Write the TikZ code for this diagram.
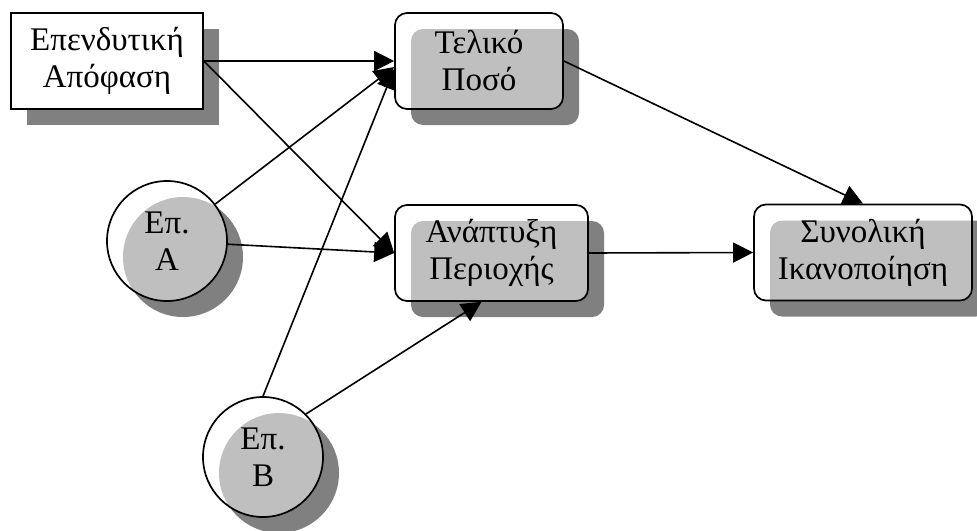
\documentclass[tikz,border=0pt]{standalone}
\usepackage{fontspec}
\setmainfont{Liberation Serif}
\usetikzlibrary{arrows.meta}
\usetikzlibrary{shadows}
\tikzstyle{every node}=[font=\fontsize{16.5}{18.5}\selectfont, align=center, line width=0.85pt]
\tikzset{offshadow/.style={drop shadow={shadow xshift=8pt, shadow yshift=-8pt, fill=black!50, opacity=1}}}
\tikzstyle{plain box}=[draw, rectangle, fill=white, minimum width=96pt, minimum height=48pt, offshadow]
\tikzstyle{shaded}=[draw, fill=white, fill opacity=0.5, text opacity=1, offshadow]
\tikzstyle{round box}=[shaded, rectangle, rounded corners=6pt, minimum height=48pt]
\tikzstyle{agent}=[shaded, circle, minimum size=60pt, inner sep=0pt]
\tikzset{flow/.style={-{Triangle[length=10pt,width=10pt]}, line width=0.8pt}}

\begin{document}
\begin{tikzpicture}[x=0.5pt, y=-0.5pt]
		\useasboundingbox (0,0) rectangle (977,530);
		\node[plain box] (invest) at (107,61) {Επενδυτική\\Απόφαση};
		\node[round box, minimum width=84pt] (final) at (479,61) {Τελικό\\Ποσό};
		\node[round box, minimum width=96.5pt] (devel) at (491.5,253) {Ανάπτυξη\\Περιοχής};
		\node[round box, minimum width=109pt] (total) at (863,252.5) {Συνολική\\Ικανοποίηση};
		\node[agent] (epA) at (167,241) {Επ.\\Α};
		\node[agent] (epB) at (263,457) {Επ.\\Β};
		\draw[flow] (invest.east) -- (final.west);
		\draw[flow] (invest.east) -- (devel.west);
		\draw[flow] (epA) -- ([yshift=-3pt]final.west);
		\draw[flow] (epA) -- (devel.west);
		\draw[flow] (epB.north) -- ([yshift=-4pt]final.west);
		\draw[flow] (epB.45) -- ([xshift=-5pt]devel.south);
		\draw[flow] (final.east) -- (total.north);
		\draw[flow] (devel.east) -- (total.west);
\end{tikzpicture}
\end{document}
